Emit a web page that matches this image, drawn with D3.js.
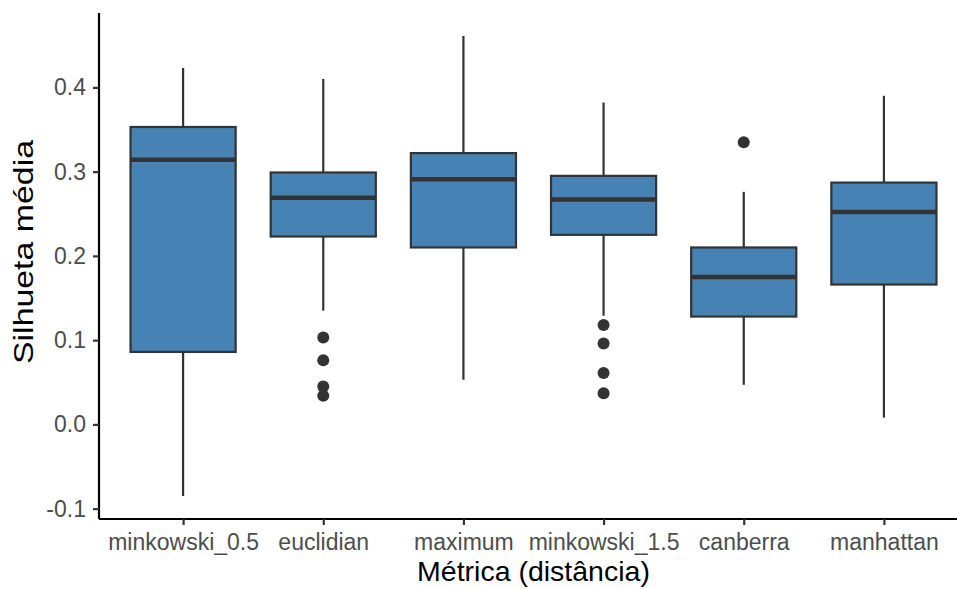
<!DOCTYPE html>
<html>
<head>
<meta charset="utf-8">
<script src="https://cdn.jsdelivr.net/npm/d3@7"></script>
<style>
  body { margin: 0; background: #fff; }
  text { font-family: "Liberation Sans", Arial, sans-serif; }
</style>
</head>
<body>
<div id="chart"></div>
<script>
// Dados
const categories = ['minkowski_0.5', 'euclidian', 'maximum', 'minkowski_1.5', 'canberra', 'manhattan'];
const whiskerLow = [-0.085, 0.135, 0.053, 0.129, 0.047, 0.008];
const q1Values = [0.086, 0.223, 0.210, 0.225, 0.128, 0.166];
const medianValues = [0.314, 0.269, 0.291, 0.267, 0.175, 0.252];
const q3Values = [0.353, 0.299, 0.322, 0.295, 0.210, 0.287];
const whiskerHigh = [0.423, 0.410, 0.461, 0.382, 0.276, 0.390];
const outliers = [
  [],
  [0.103, 0.076, 0.045, 0.034],
  [],
  [0.118, 0.096, 0.061, 0.037],
  [0.335],
  []
];
const yTicks = [-0.1, 0.0, 0.1, 0.2, 0.3, 0.4];

const width = 957, height = 589;
const margin = { top: 13, right: -11, bottom: 70, left: 99 };

const svg = d3.select('#chart')
  .append('svg')
  .attr('width', width)
  .attr('height', height);

const boxes = categories.map((c, i) => ({
  cat: c,
  lo: whiskerLow[i], q1: q1Values[i], med: medianValues[i],
  q3: q3Values[i], hi: whiskerHigh[i], out: outliers[i]
}));

// Escalas (expansão de 5% como no ggplot)
const allVals = boxes.flatMap(d => [d.lo, d.hi, ...d.out]);
const [minV, maxV] = d3.extent(allVals);
const pad = (maxV - minV) * 0.05;
const y = d3.scaleLinear()
  .domain([minV - pad, maxV + pad])
  .range([height - margin.bottom, margin.top]);

const x = d3.scalePoint()
  .domain(categories)
  .range([margin.left, width - margin.right])
  .padding(0.6);

const boxW = x.step() * 0.75;
const ink = '#333333';

// Caixas
const g = svg.append('g');
const box = g.selectAll('g.box')
  .data(boxes)
  .enter().append('g')
  .attr('class', 'box');

box.append('line')
  .attr('x1', d => x(d.cat)).attr('x2', d => x(d.cat))
  .attr('y1', d => y(d.hi)).attr('y2', d => y(d.q3))
  .attr('stroke', ink).attr('stroke-width', 2.2);

box.append('line')
  .attr('x1', d => x(d.cat)).attr('x2', d => x(d.cat))
  .attr('y1', d => y(d.q1)).attr('y2', d => y(d.lo))
  .attr('stroke', ink).attr('stroke-width', 2.2);

box.append('rect')
  .attr('x', d => x(d.cat) - boxW / 2)
  .attr('width', boxW)
  .attr('y', d => y(d.q3))
  .attr('height', d => y(d.q1) - y(d.q3))
  .attr('fill', '#4682B4')
  .attr('stroke', ink).attr('stroke-width', 2.2);

box.append('line')
  .attr('x1', d => x(d.cat) - boxW / 2).attr('x2', d => x(d.cat) + boxW / 2)
  .attr('y1', d => y(d.med)).attr('y2', d => y(d.med))
  .attr('stroke', ink).attr('stroke-width', 4.5);

box.selectAll('circle')
  .data(d => d.out.map(v => ({ cat: d.cat, v })))
  .enter().append('circle')
  .attr('cx', d => x(d.cat))
  .attr('cy', d => y(d.v))
  .attr('r', 6)
  .attr('fill', ink);

// Eixos
const fmt = v => v.toFixed(1);
const yAxis = svg.append('g')
  .attr('transform', `translate(${margin.left},0)`)
  .call(d3.axisLeft(y).tickValues(yTicks).tickFormat(fmt).tickSize(6).tickPadding(7));
const xAxis = svg.append('g')
  .attr('transform', `translate(0,${height - margin.bottom})`)
  .call(d3.axisBottom(x).tickSize(6).tickPadding(9));

[yAxis, xAxis].forEach(a => {
  a.select('.domain').attr('stroke', '#000').attr('stroke-width', 2.2);
  a.selectAll('.tick line').attr('stroke', ink).attr('stroke-width', 2.2);
  a.selectAll('.tick text')
    .attr('fill', '#4d4d4d')
    .style('font-size', '23px');
});
xAxis.select('.domain').attr('d', `M${margin.left},0H${width}`);
yAxis.select('.domain').attr('d', `M0,${y.range()[0]}V${margin.top}`);

// Títulos dos eixos
svg.append('text')
  .attr('x', (margin.left + width - margin.right) / 2)
  .attr('y', 581)
  .attr('text-anchor', 'middle')
  .style('font-size', '28.5px')
  .attr('fill', '#000')
  .text('Métrica (distância)');

svg.append('text')
  .attr('transform', 'translate(33,252) rotate(-90)')
  .attr('text-anchor', 'middle')
  .attr('textLength', 224)
  .attr('lengthAdjust', 'spacingAndGlyphs')
  .style('font-size', '28.5px')
  .attr('fill', '#000')
  .text('Silhueta média');
</script>
</body>
</html>
